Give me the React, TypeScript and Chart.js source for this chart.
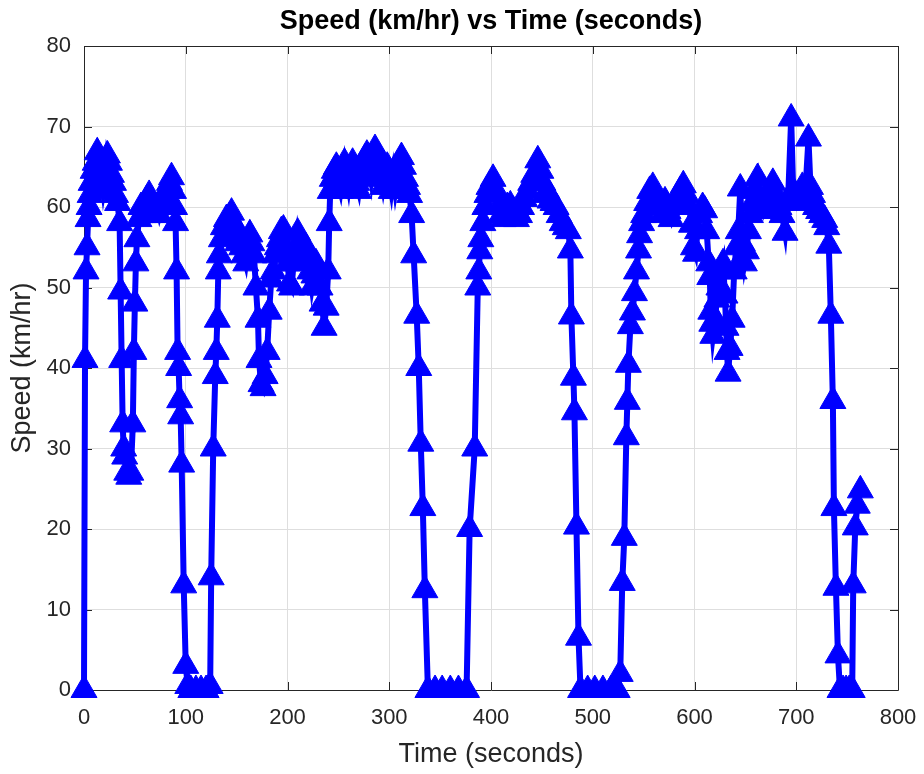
import { useEffect, useRef } from 'react';
import { Chart, registerables } from 'chart.js';

Chart.register(...registerables);

const chartTitle = 'Speed (km/hr) vs Time (seconds)';
const xTitle = 'Time (seconds)';
const yTitle = 'Speed (km/hr)';

// time (s)
const times = [
  0, 1, 2, 3, 4, 5, 6, 7, 9, 11, 13, 15, 17, 19, 21, 23, 25, 27, 29, 31, 33, 35,
  36, 37, 38, 39, 40, 42, 44, 46, 48, 49, 50, 51, 52, 54, 56, 58, 60, 62, 64, 66,
  68, 70, 72, 74, 76, 78, 81, 84, 86, 88, 89, 90, 91, 92, 93, 94, 95, 96, 98, 100,
  102, 105, 110, 115, 120, 124, 125, 127, 129, 130, 131, 132, 133, 135, 137, 140,
  143, 145, 147, 149, 151, 153, 155, 157, 159, 161, 163, 165, 167, 169, 171, 172,
  174, 176, 178, 180, 182, 184, 186, 188, 190, 192, 194, 196, 198, 200, 202, 204,
  206, 208, 210, 212, 214, 216, 218, 220, 222, 224, 226, 228, 230, 232, 234, 236,
  238, 240, 241, 242, 244, 246, 248, 250, 252, 254, 256, 258, 260, 262, 264, 266,
  268, 270, 272, 274, 276, 278, 280, 282, 284, 286, 288, 290, 292, 294, 296, 298,
  300, 302, 304, 306, 308, 310, 312, 314, 316, 318, 320, 322, 324, 327, 329, 331,
  333, 335, 338, 345, 352, 360, 368, 376, 379, 384, 387, 388, 389, 390, 392, 394,
  396, 398, 402, 405, 408, 410, 412, 414, 416, 419, 422, 425, 428, 430, 433, 436,
  439, 442, 446, 449, 451, 453, 455, 458, 461, 464, 467, 470, 473, 476, 478, 479,
  481, 482, 484, 486, 488, 495, 502, 510, 518, 524, 527, 529, 531, 533, 534, 535,
  537, 539, 541, 543, 545, 546, 548, 550, 553, 556, 559, 562, 565, 568, 571, 574,
  577, 580, 583, 586, 589, 592, 595, 597, 599, 601, 603, 605, 608, 610, 612, 614,
  615, 616, 617, 618, 620, 622, 624, 626, 628, 630, 631, 632, 633, 635, 637, 639,
  641, 643, 645, 647, 649, 651, 653, 655, 657, 659, 662, 665, 668, 671, 674, 677,
  680, 683, 686, 689, 692, 695, 697, 699, 701, 703, 706, 709, 712, 714, 716, 719,
  722, 725, 728, 730, 732, 734, 736, 737, 739, 741, 743, 746, 749, 752, 755, 756,
  758, 760, 763,
];

// speed (km/hr)
const speeds = [
  0, 41, 52, 55, 58.5, 60, 61.5, 63, 64.5, 65.5, 66.8, 65.5, 64, 62, 63.5, 66.4, 65.5, 64, 63, 61.5, 60.5, 58,
  49.5, 41, 33, 30, 29, 27, 26.5, 27, 33, 42, 48, 53, 56, 58.5, 60, 59, 60, 61, 61.5, 60,
  59, 59.5, 60, 59, 60, 61, 62, 63, 63.7, 62, 60, 58, 52, 42, 40, 36, 34, 28, 13, 3,
  0.5, 0, 0, 0, 0, 0.5, 14, 30, 39, 42, 46, 52, 54, 56, 57.5, 58.5,
  58.8, 59.3, 58, 57, 55.5, 56.5, 55, 54, 53, 55, 56.6, 55.5, 54, 50, 46, 41,
  38, 37.5, 39, 42, 47, 51, 52, 54, 55, 56, 57, 57.2, 55, 53, 50.5, 50,
  53, 55, 56.8, 55.5, 54, 53.5, 55, 54, 52, 50, 51.5, 53, 52, 50, 48, 45,
  47.5, 52, 58, 62, 63.5, 64.5, 65, 63, 62, 64, 65.5, 64, 62.5, 64.5, 65.5, 64.5,
  63, 62, 64, 65, 66, 66.5, 65, 63.5, 66, 67.2, 66.5, 65.5, 64, 62.5, 64, 65,
  63.5, 62, 64, 62, 63.5, 65, 66.2, 65, 63.5, 62.5, 61.5, 59, 54, 46.5, 40, 30.6,
  22.6, 12.4, 0, 0, 0, 0, 0, 0, 20, 30, 50, 52, 54.5, 56, 58, 60,
  61.5, 62.5, 63.5, 62, 60, 59, 58.5, 59, 60, 60.2, 59.5, 58.5, 59, 60, 61, 62,
  63, 64, 65.8, 64.5, 63, 61.5, 62, 60.8, 60.5, 60, 59, 58, 57.5, 57, 54.6, 46.4,
  38.8, 34.5, 20.3, 6.5, 0, 0, 0, 0, 0, 0, 2, 13.3, 18.9, 31.4, 35.8, 40.4,
  45.2, 46.9, 49.3, 52, 54.6, 56.5, 58, 59, 60.5, 62, 62.5, 61, 60, 59, 60.7, 59.5,
  58.5, 60, 61, 62, 62.7, 61.5, 60, 57.8, 55, 54.2, 57, 59, 60, 59.6, 57, 53,
  51.3, 47, 45.5, 44, 46, 48.5, 50, 52, 53, 49, 45, 42, 39.3, 42.5, 46, 52,
  55, 57, 62.3, 55.5, 53, 54.5, 57, 59, 60.5, 62, 63.6, 61, 59.5, 60.5, 62, 63,
  61.5, 60, 59, 56.8, 61, 71, 62, 61.5, 60.5, 61, 62.5, 62, 68.5, 62.5, 61.5, 60,
  59.5, 59, 58.4, 57.5, 55.2, 46.5, 35.9, 22.6, 12.7, 4.3, 0, 0, 0, 0, 0, 13,
  20.2, 22.9, 24.8,
];

const xMin = 0;
const xMax = 800;
const xStep = 100;
const yMin = 0;
const yMax = 80;
const yStep = 10;

const FONT = "'Liberation Sans', Arial, Helvetica, sans-serif";
const AXIS_COLOR = '#262626';

const framePlugin = {
  id: 'matlabFrame',
  beforeDatasetsDraw(chart: any) {
    const { ctx, chartArea: a, scales } = chart;
    const xs = scales.x;
    const ys = scales.y;
    ctx.save();
    ctx.strokeStyle = AXIS_COLOR;
    ctx.lineWidth = 1;
    ctx.beginPath();
    ctx.rect(Math.round(a.left) + 0.5, Math.round(a.top) + 0.5, Math.round(a.right - a.left), Math.round(a.bottom - a.top));
    ctx.stroke();
    const len = 8;
    ctx.beginPath();
    xs.ticks.forEach((t: any) => {
      const px = Math.round(xs.getPixelForValue(t.value)) + 0.5;
      ctx.moveTo(px, a.bottom);
      ctx.lineTo(px, a.bottom - len);
      ctx.moveTo(px, a.top);
      ctx.lineTo(px, a.top + len);
    });
    ys.ticks.forEach((t: any) => {
      const py = Math.round(ys.getPixelForValue(t.value)) + 0.5;
      ctx.moveTo(a.left, py);
      ctx.lineTo(a.left + len, py);
      ctx.moveTo(a.right, py);
      ctx.lineTo(a.right - len, py);
    });
    ctx.stroke();
    ctx.restore();
  },
};

const titlePlugin = {
  id: 'centeredTitle',
  afterDraw(chart: any) {
    const { ctx, chartArea: a } = chart;
    ctx.save();
    ctx.fillStyle = '#000000';
    ctx.font = `bold 27px ${FONT}`;
    ctx.textAlign = 'center';
    ctx.textBaseline = 'middle';
    ctx.fillText(chartTitle, (a.left + a.right) / 2, 22);
    ctx.restore();
  },
};

export default function App() {
  const canvasRef = useRef<HTMLCanvasElement | null>(null);

  useEffect(() => {
    document.body.style.margin = '0';
    const canvas = canvasRef.current;
    if (!canvas) return;
    const data = times.map((t, i) => ({ x: t, y: speeds[i] }));
    const chart = new Chart(canvas, {
      type: 'line',
      data: {
        datasets: [
          {
            data,
            borderColor: '#0000ff',
            backgroundColor: '#0000ff',
            borderWidth: 6,
            pointStyle: 'triangle',
            pointRadius: 15,
            pointHoverRadius: 15,
            pointBackgroundColor: '#0000ff',
            pointBorderColor: '#0000ff',
            pointBorderWidth: 1,
            tension: 0,
            fill: false,
            clip: false as any,
          },
        ],
      },
      options: {
        responsive: false,
        animation: false,
        devicePixelRatio: 1,
        layout: { padding: { left: 0, right: 26, top: 46, bottom: 0 } },
        plugins: {
          legend: { display: false },
          tooltip: { enabled: false },
          title: { display: false },
        },
        scales: {
          x: {
            type: 'linear',
            min: xMin,
            max: xMax,
            afterFit: (s: any) => {
              s.height = 84;
              s.paddingLeft = 0;
              s.paddingRight = 0;
            },
            ticks: {
              stepSize: xStep,
              color: AXIS_COLOR,
              font: { family: FONT, size: 22 },
              padding: 15,
              maxRotation: 0,
            },
            grid: { color: '#dedede', drawTicks: false, lineWidth: 1 },
            border: { display: false },
            title: {
              display: true,
              text: xTitle,
              color: AXIS_COLOR,
              font: { family: FONT, size: 27 },
              padding: { top: 0, bottom: 3 },
            },
          },
          y: {
            type: 'linear',
            min: yMin,
            max: yMax,
            afterFit: (s: any) => {
              s.width = 84;
              s.paddingTop = 0;
              s.paddingBottom = 0;
            },
            ticks: {
              stepSize: yStep,
              color: AXIS_COLOR,
              font: { family: FONT, size: 22 },
              padding: 13,
            },
            grid: { color: '#dedede', drawTicks: false, lineWidth: 1 },
            border: { display: false },
            title: {
              display: true,
              text: yTitle,
              color: AXIS_COLOR,
              font: { family: FONT, size: 27 },
              padding: { top: 6, bottom: 0 },
            },
          },
        },
      },
      plugins: [framePlugin, titlePlugin],
    });
    return () => chart.destroy();
  }, []);

  return (
    <div style={{ width: 924, height: 774 }}>
      <canvas ref={canvasRef} width={924} height={774} />
    </div>
  );
}
